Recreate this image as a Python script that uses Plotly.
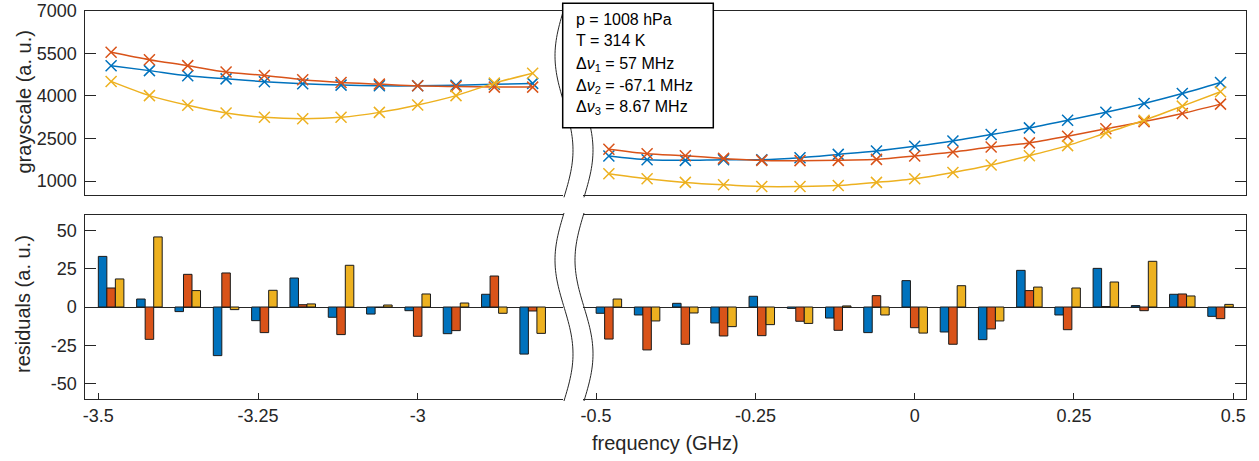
import numpy as np
import plotly.graph_objects as go

# ---------------- data ----------------
freq_left = [-3.48, -3.42, -3.36, -3.30, -3.24, -3.18, -3.12, -3.06, -3.00, -2.94, -2.88, -2.82]
freq_right = [-0.48, -0.42, -0.36, -0.30, -0.24, -0.18, -0.12, -0.06, 0.00,
              0.06, 0.12, 0.18, 0.24, 0.30, 0.36, 0.42, 0.48]

gray_blue_left = [5060, 4890, 4710, 4600, 4500, 4425, 4380, 4355, 4355, 4375, 4410, 4440]
gray_orange_left = [5535, 5275, 5065, 4840, 4720, 4570, 4475, 4415, 4355, 4330, 4310, 4310]
gray_yellow_left = [4510, 4010, 3670, 3400, 3245, 3195, 3245, 3420, 3680, 4010, 4450, 4800]

gray_blue_right = [1885, 1755, 1730, 1755, 1755, 1825, 1940, 2060, 2225, 2415, 2640, 2875,
                   3145, 3425, 3735, 4085, 4475]
gray_orange_right = [2120, 1965, 1895, 1800, 1730, 1720, 1730, 1765, 1885, 2025, 2200, 2345,
                     2580, 2840, 3095, 3380, 3710]
gray_yellow_right = [1260, 1085, 955, 870, 810, 810, 845, 955, 1085, 1305, 1565, 1895,
                     2250, 2695, 3145, 3640, 4145]

res_blue_left = [33.0, 5.2, -3.0, -31.7, -8.9, 18.9, -6.7, -4.6, -2.4, -17.4, 8.3, -30.7]
res_orange_left = [12.4, -21.1, 21.3, 22.2, -16.7, 1.5, -18.0, -0.3, -19.1, -15.4, 20.2, -2.6]
res_yellow_left = [18.3, 45.7, 10.7, -1.7, 10.9, 2.0, 27.2, 1.3, 8.5, 2.6, -4.1, -17.2]

res_blue_right = [-4.1, -5.2, 2.4, -10.4, 7.0, -0.9, -7.2, -16.7, 17.2, -16.3, -21.3, 23.9,
                  -5.2, 25.2, 0.9, 8.3, -6.1]
res_orange_right = [-20.9, -28.0, -24.3, -18.9, -18.7, -9.3, -15.2, 7.4, -13.5, -24.3, -14.3,
                    10.7, -14.8, 0.3, -2.4, 8.5, -7.6]
res_yellow_right = [5.2, -9.1, -3.9, -12.8, -11.5, -10.7, 0.7, -5.2, -17.0, 13.9, -9.1, 13.0,
                    12.4, 16.3, 29.8, 7.2, 1.7]

xtick_left = [-3.5, -3.25, -3.0]
xtick_left_text = ["-3.5", "-3.25", "-3"]
xtick_right = [-0.5, -0.25, 0.0, 0.25, 0.5]
xtick_right_text = ["-0.5", "-0.25", "0", "0.25", "0.5"]
ytick_top = [1000, 2500, 4000, 5500, 7000]
ytick_top_text = ["1000", "2500", "4000", "5500", "7000"]
ytick_bot = [-50, -25, 0, 25, 50]
ytick_bot_text = ["-50", "-25", "0", "25", "50"]

legend_lines = ["p = 1008 hPa", "T = 314 K",
                "Δ<i>ν</i><sub>1</sub> = 57 MHz",
                "Δ<i>ν</i><sub>2</sub> = -67.1 MHz",
                "Δ<i>ν</i><sub>3</sub> = 8.67 MHz"]

# ---------------- style ----------------
W, H = 1259, 461
BLUE, ORANGE, YELLOW = "#0072BD", "#D95319", "#EDB120"
AXC = "#262626"
FONT = "Liberation Sans, Arial, Helvetica, sans-serif"


def px(x):
    return x / W


def py(y):
    return 1 - y / H


XL = (85.3, 563.0)
XR = (583.0, 1245.7)
YT = (10.7, 195.3)
YB = (215.0, 399.0)

fig = go.Figure()

series = [
    (BLUE, gray_blue_left, gray_blue_right, res_blue_left, res_blue_right),
    (ORANGE, gray_orange_left, gray_orange_right, res_orange_left, res_orange_right),
    (YELLOW, gray_yellow_left, gray_yellow_right, res_yellow_left, res_yellow_right),
]

for col, gl, gr, rl, rr in series:
    for xs, ys, xa, ya in [(freq_left, gl, "x3", "y3"), (freq_right, gr, "x4", "y4")]:
        fig.add_trace(go.Scatter(
            x=xs, y=ys, xaxis=xa, yaxis=ya, mode="lines+markers",
            line=dict(color=col, width=1.5, shape="spline", smoothing=0.8),
            marker=dict(symbol="x-thin-open", size=11, line=dict(color=col, width=1.5)),
            showlegend=False, hoverinfo="skip"))
    for xs, ys, xa, ya in [(freq_left, rl, "x", "y"), (freq_right, rr, "x2", "y2")]:
        fig.add_trace(go.Bar(
            x=xs, y=ys, xaxis=xa, yaxis=ya,
            marker=dict(color=col, line=dict(color="#1a1a1a", width=1)),
            showlegend=False, hoverinfo="skip"))

tickfont = dict(family=FONT, size=18, color=AXC)

common_x = dict(showline=True, linecolor=AXC, linewidth=1, mirror=True, showgrid=False,
                zeroline=False, tickfont=tickfont, fixedrange=True, automargin=False)
common_y = dict(showline=True, linecolor=AXC, linewidth=1, showgrid=False,
                tickfont=tickfont, ticks="inside", ticklen=11, tickcolor=AXC, tickwidth=1,
                fixedrange=True, automargin=False)

fig.update_layout(
    width=W, height=H,
    margin=dict(l=0, r=0, t=0, b=0, autoexpand=False),
    paper_bgcolor="white", plot_bgcolor="white",
    barmode="group", bargap=1/3, bargroupgap=0,
    showlegend=False,
    font=dict(family=FONT, color=AXC),
    xaxis=dict(domain=[px(XL[0]), px(XL[1])], range=[-3.5204, -2.7725], anchor="y",
               ticks="inside", ticklen=6, tickcolor=AXC, tickvals=xtick_left,
               ticktext=xtick_left_text, **common_x),
    xaxis2=dict(domain=[px(XR[0]), px(XR[1])], range=[-0.5206, 0.5195], anchor="y2",
                ticks="inside", ticklen=6, tickcolor=AXC, tickvals=xtick_right,
                ticktext=xtick_right_text, **common_x),
    xaxis3=dict(domain=[px(XL[0]), px(XL[1])], range=[-3.5204, -2.7725], anchor="y3",
                ticks="", showticklabels=False, **common_x),
    xaxis4=dict(domain=[px(XR[0]), px(XR[1])], range=[-0.5206, 0.5195], anchor="y4",
                ticks="", showticklabels=False, **common_x),
    yaxis=dict(domain=[py(YB[1]), py(YB[0])], range=[-60, 60], anchor="x",
               tickvals=ytick_bot, ticktext=ytick_bot_text, zeroline=True,
               zerolinecolor=AXC, zerolinewidth=1, ticklabelstandoff=4, **common_y),
    yaxis2=dict(domain=[py(YB[1]), py(YB[0])], range=[-60, 60], anchor="x2", side="right",
                tickvals=ytick_bot, showticklabels=False, zeroline=True,
                zerolinecolor=AXC, zerolinewidth=1, **common_y),
    yaxis3=dict(domain=[py(YT[1]), py(YT[0])], range=[500, 7000], anchor="x3",
                tickvals=ytick_top, ticktext=ytick_top_text, zeroline=False,
                ticklabelstandoff=4, **common_y),
    yaxis4=dict(domain=[py(YT[1]), py(YT[0])], range=[500, 7000], anchor="x4", side="right",
                tickvals=ytick_top, showticklabels=False, zeroline=False, **common_y),
)

# break marks (wavy lines)
shapes = []
for (ytop, ybot) in [YT, YB]:
    for x0 in (564.0, 584.0):
        t = np.linspace(0, 1, 60)
        xs = x0 - 9.0 * np.sin(2 * np.pi * t)
        ys = ytop - 2 + t * (ybot - ytop + 4)
        path = "M " + " L ".join(f"{px(a):.5f},{py(b):.5f}" for a, b in zip(xs, ys))
        shapes.append(dict(type="path", path=path, xref="paper", yref="paper",
                           line=dict(color=AXC, width=1), layer="above"))

# legend box
shapes.append(dict(type="rect", xref="paper", yref="paper",
                   x0=px(562.7), x1=px(713.3), y0=py(127.7), y1=py(3.3),
                   line=dict(color="black", width=1.5), fillcolor="white", layer="above"))
fig.update_layout(shapes=shapes)

annotations = []
line_y = [19.5, 40.5, 64.5, 86.0, 107.5]
for txt, yy in zip(legend_lines, line_y):
    annotations.append(dict(text=txt, xref="paper", yref="paper", x=px(574), y=py(yy),
                            xanchor="left", yanchor="middle", showarrow=False,
                            font=dict(family=FONT, size=16, color="black")))

annotations.append(dict(text="grayscale (a. u.)", xref="paper", yref="paper",
                        x=px(23), y=py(102.5), textangle=-90, showarrow=False,
                        xanchor="center", yanchor="middle",
                        font=dict(family=FONT, size=20, color=AXC)))
annotations.append(dict(text="residuals (a. u.)", xref="paper", yref="paper",
                        x=px(23), y=py(304), textangle=-90, showarrow=False,
                        xanchor="center", yanchor="middle",
                        font=dict(family=FONT, size=20, color=AXC)))
annotations.append(dict(text="frequency (GHz)", xref="paper", yref="paper",
                        x=px(665), y=py(443), showarrow=False,
                        xanchor="center", yanchor="middle",
                        font=dict(family=FONT, size=20, color=AXC)))
fig.update_layout(annotations=annotations)

fig.write_html(
    "out.html",
    config={"displayModeBar": False},
    post_script="document.body.style.margin='0';document.body.style.overflow='hidden';",
)
